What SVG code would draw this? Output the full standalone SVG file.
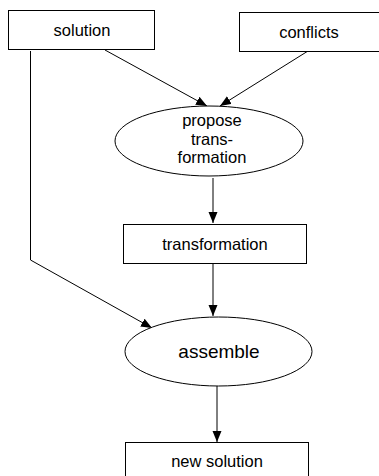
<svg xmlns="http://www.w3.org/2000/svg" width="379" height="476" viewBox="0 0 379 476">
<style>
.box{fill:#fff;stroke:#000;stroke-width:1}
.el{fill:#fff;stroke:#000;stroke-width:1}
.t{font-family:"Liberation Sans",Arial,sans-serif;font-size:16.5px;fill:#000;text-anchor:middle}
.big{font-size:19px}
.c{fill:none;stroke:#000;stroke-width:1}
</style>
<defs>
<marker id="ah" markerWidth="12" markerHeight="10" refX="11" refY="4.5" orient="auto" markerUnits="userSpaceOnUse">
<path d="M0,0 L11,4.5 L0,9 Z" fill="#000"/>
</marker>
</defs>
<rect width="379" height="476" fill="#fff"/>
<g id="connectors">
<line class="c" x1="105" y1="50" x2="207" y2="106" marker-end="url(#ah)"/>
<line class="c" x1="308" y1="51" x2="220" y2="106" marker-end="url(#ah)"/>
<polyline class="c" points="30.5,51 30.5,260 152,328" marker-end="url(#ah)"/>
<line class="c" x1="213" y1="178" x2="213" y2="223" marker-end="url(#ah)"/>
<line class="c" x1="213" y1="264" x2="213" y2="316" marker-end="url(#ah)"/>
<line class="c" x1="217" y1="386" x2="217" y2="442" marker-end="url(#ah)"/>
</g>
<g id="solution">
<rect class="box" x="8.5" y="10.5" width="146" height="39"/>
<text class="t" x="82" y="35.5">solution</text>
</g>
<g id="conflicts">
<rect class="box" x="239.5" y="12.5" width="150" height="39"/>
<text class="t" x="309" y="37.5">conflicts</text>
</g>
<g id="propose">
<ellipse class="el" cx="209" cy="141" rx="94" ry="35"/>
<text class="t" x="212" y="126">propose</text>
<text class="t" x="212" y="144.5">trans-</text>
<text class="t" x="212" y="163">formation</text>
</g>
<g id="transformation">
<rect class="box" x="123.5" y="224.5" width="183" height="39"/>
<text class="t" x="215" y="250">transformation</text>
</g>
<g id="assemble">
<ellipse class="el" cx="218.5" cy="351.5" rx="93.5" ry="34.5"/>
<text class="t big" x="219" y="358">assemble</text>
</g>
<g id="new_solution">
<rect class="box" x="125.5" y="442.5" width="183" height="40"/>
<text class="t" x="217" y="467">new solution</text>
</g>
</svg>
